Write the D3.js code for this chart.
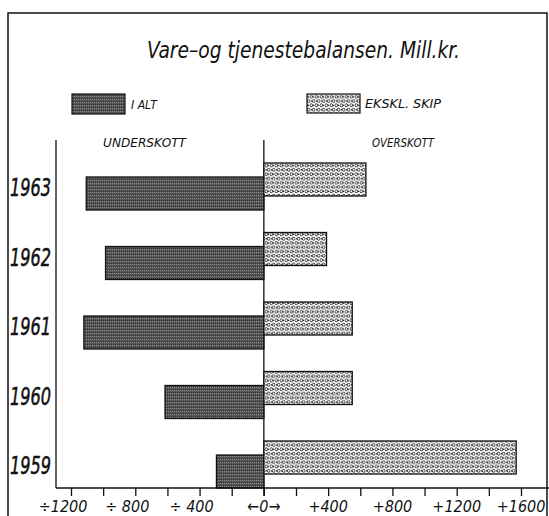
<!DOCTYPE html>
<html>
<head>
<meta charset="utf-8">
<script src="https://cdn.jsdelivr.net/npm/d3@7"></script>
<style>
  body { margin: 0; background: #fff; }
  svg text { font-family: "DejaVu Sans Condensed", "DejaVu Sans", sans-serif; font-style: italic; fill: #111; }
</style>
</head>
<body>
<svg id="chart" width="549" height="516"></svg>
<script>
// ---------- data ----------
const years = ["1963", "1962", "1961", "1960", "1959"];
const iAlt = [-1105, -985, -1120, -615, -295];       // I ALT (dark bars)
const eksklSkip = [635, 390, 550, 550, 1570];         // EKSKL. SKIP (dotted bars)
const tickValues = [-1200, -1000, -800, -600, -400, -200, 0, 200, 400, 600, 800, 1000, 1200, 1400, 1600];
const labelValues = [-1200, -800, -400, 0, 400, 800, 1200, 1600];
const labelTexts = ["÷1200", "÷ 800", "÷ 400", "←0→", "+400", "+800", "+1200", "+1600"];

// ---------- setup ----------
const svg = d3.select("#chart");
const x = d3.scaleLinear().domain([-1200, 1600]).range([71, 521]);
const y = d3.scalePoint().domain(years).range([186, 464]);
const axisY = 488;
const barH = 33;

const defs = svg.append("defs");

// dark halftone
const dark = defs.append("pattern").attr("id", "dark")
  .attr("patternUnits", "userSpaceOnUse").attr("width", 2).attr("height", 3);
dark.append("rect").attr("width", 2).attr("height", 3).attr("fill", "#555");
dark.append("rect").attr("x", 0).attr("y", 0).attr("width", 1).attr("height", 1).attr("fill", "#8a8a8a");
dark.append("rect").attr("x", 1).attr("y", 2).attr("width", 1).attr("height", 1).attr("fill", "#333");

// dotted circles
const dots = defs.append("pattern").attr("id", "dots")
  .attr("patternUnits", "userSpaceOnUse").attr("width", 5).attr("height", 8.6);
dots.append("rect").attr("width", 5).attr("height", 8.6).attr("fill", "#fff");
[[1.25, 2.15], [3.75, 6.45]].forEach(([cx, cy]) =>
  dots.append("circle").attr("cx", cx).attr("cy", cy).attr("r", 1.45)
    .attr("fill", "none").attr("stroke", "#1a1a1a").attr("stroke-width", 0.9));
[[3.75, 2.15], [1.25, 6.45]].forEach(([cx, cy]) =>
  dots.append("circle").attr("cx", cx).attr("cy", cy).attr("r", 0.8).attr("fill", "#1a1a1a"));

// ---------- frame ----------
svg.append("path")
  .attr("d", "M8,516 L8,13 L547,13 L547,516")
  .attr("fill", "none").attr("stroke", "#111").attr("stroke-width", 1.5);

// ---------- title & legend ----------
svg.append("text").attr("x", 147).attr("y", 58)
  .attr("font-size", 23).attr("textLength", 313).attr("lengthAdjust", "spacingAndGlyphs")
  .text("Vare–og tjenestebalansen. Mill.kr.");

svg.append("rect").attr("x", 72).attr("y", 94).attr("width", 53).attr("height", 20)
  .attr("fill", "url(#dark)").attr("stroke", "#111").attr("stroke-width", 1.2);
svg.append("text").attr("x", 131).attr("y", 109).attr("font-size", 13)
  .attr("textLength", 26).attr("lengthAdjust", "spacingAndGlyphs").text("I ALT");

svg.append("rect").attr("x", 307).attr("y", 94).attr("width", 53).attr("height", 19)
  .attr("fill", "url(#dots)").attr("stroke", "#111").attr("stroke-width", 1.2);
svg.append("text").attr("x", 365).attr("y", 108).attr("font-size", 13)
  .attr("textLength", 76).attr("lengthAdjust", "spacingAndGlyphs").text("EKSKL. SKIP");

svg.append("text").attr("x", 103).attr("y", 147).attr("font-size", 13)
  .attr("textLength", 83).attr("lengthAdjust", "spacingAndGlyphs").text("UNDERSKOTT");
svg.append("text").attr("x", 372).attr("y", 147).attr("font-size", 13)
  .attr("textLength", 62).attr("lengthAdjust", "spacingAndGlyphs").text("OVERSKOTT");

// ---------- axes lines ----------
svg.append("line").attr("x1", 56).attr("x2", 56).attr("y1", 140).attr("y2", axisY)
  .attr("stroke", "#111").attr("stroke-width", 1.3);
svg.append("line").attr("x1", x(0)).attr("x2", x(0)).attr("y1", 140).attr("y2", axisY + 8)
  .attr("stroke", "#111").attr("stroke-width", 1.3);

// ---------- bars ----------
svg.selectAll("rect.ialt").data(years).join("rect").attr("class", "ialt")
  .attr("x", (d, i) => x(iAlt[i]))
  .attr("y", d => y(d) - 9)
  .attr("width", (d, i) => x(0) - x(iAlt[i]))
  .attr("height", barH)
  .attr("fill", "url(#dark)").attr("stroke", "#111").attr("stroke-width", 1.3);

svg.selectAll("rect.skip").data(years).join("rect").attr("class", "skip")
  .attr("x", x(0))
  .attr("y", d => y(d) - 23)
  .attr("width", (d, i) => x(eksklSkip[i]) - x(0))
  .attr("height", barH)
  .attr("fill", "url(#dots)").attr("stroke", "#111").attr("stroke-width", 1.3);

// year labels
svg.selectAll("text.year").data(years).join("text").attr("class", "year")
  .attr("x", 10).attr("y", d => y(d) + 10)
  .attr("font-size", 25)
  .attr("stroke", "#111").attr("stroke-width", 0.5)
  .attr("textLength", 41).attr("lengthAdjust", "spacingAndGlyphs")
  .text(d => d);

// ---------- bottom axis ----------
const xAxis = d3.axisBottom(x).tickValues(tickValues).tickSize(8).tickFormat("");
const gx = svg.append("g").attr("transform", `translate(0,${axisY})`).call(xAxis);
gx.select(".domain").remove();
gx.selectAll(".tick line").attr("stroke", "#111").attr("stroke-width", 1.3);
svg.append("line").attr("x1", 56).attr("x2", 549).attr("y1", axisY).attr("y2", axisY)
  .attr("stroke", "#111").attr("stroke-width", 1.3);

svg.selectAll("text.tick-label").data(labelValues).join("text").attr("class", "tick-label")
  .attr("x", d => x(d) - (d < 0 ? 8 : 0))
  .attr("y", 512)
  .attr("text-anchor", "middle")
  .attr("font-size", 16)
  .text((d, i) => labelTexts[i]);
</script>
</body>
</html>
